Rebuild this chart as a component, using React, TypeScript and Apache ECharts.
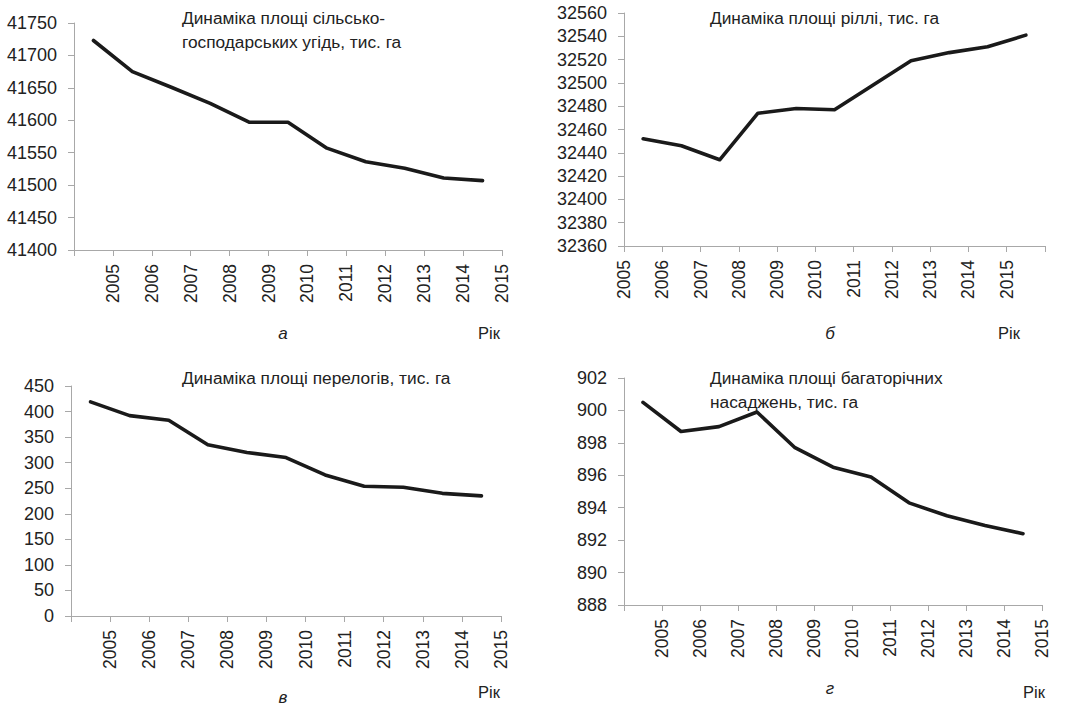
import React, { useEffect, useRef } from "react";
import * as echarts from "echarts";

const years = ["2005", "2006", "2007", "2008", "2009", "2010", "2011", "2012", "2013", "2014", "2015"];
const tickLabelsShifted = ["", ...years];
const tickLabelsLeft = [...years, ""];

const agriLand = [41723, 41675, 41651, 41626, 41597, 41597, 41557, 41536, 41526, 41511, 41507];
const arable = [32452, 32446, 32434, 32474, 32478, 32477, 32498, 32519, 32526, 32531, 32541];
const fallow = [419, 392, 383, 335, 320, 310, 276, 254, 252, 240, 235];
const perennial = [900.5, 898.7, 899.0, 899.9, 897.7, 896.5, 895.9, 894.3, 893.5, 892.9, 892.4];

const titles = [
  "Динаміка площі сільсько-\nгосподарських угідь, тис. га",
  "Динаміка площі ріллі, тис. га",
  "Динаміка площі перелогів, тис. га",
  "Динаміка площі багаторічних\nнасаджень, тис. га",
];
const letters = ["а", "б", "в", "г"];
const yearWord = "Рік";

const FONT = "'Liberation Sans', Arial, sans-serif";
const AXIS = "#a8a8a8";
const TEXT = "#222";

export default function App() {
  const ref = useRef<HTMLDivElement>(null);
  useEffect(() => {
    if (!ref.current) return;
    const chart = echarts.init(ref.current, null, { renderer: "svg" });

    const panels = [
      { grid: { left: 74, top: 23, width: 428, height: 227 }, data: agriLand, min: 41400, max: 41750, interval: 50, ticks: tickLabelsShifted },
      { grid: { left: 624, top: 13, width: 421, height: 233 }, data: arable, min: 32360, max: 32560, interval: 20, ticks: tickLabelsLeft },
      { grid: { left: 71, top: 386, width: 430, height: 230 }, data: fallow, min: 0, max: 450, interval: 50, ticks: tickLabelsShifted },
      { grid: { left: 624, top: 378, width: 418, height: 227 }, data: perennial, min: 888, max: 902, interval: 2, ticks: tickLabelsShifted },
    ];

    const grid: any[] = [];
    const xAxis: any[] = [];
    const yAxis: any[] = [];
    const series: any[] = [];
    panels.forEach((p, i) => {
      grid.push({ ...p.grid, containLabel: false });
      xAxis.push({
        gridIndex: i,
        type: "category",
        position: "bottom",
        data: years,
        boundaryGap: true,
        axisLine: { show: false },
        axisTick: { show: false },
        axisLabel: { show: false },
        splitLine: { show: false },
      });
      xAxis.push({
        gridIndex: i,
        type: "category",
        position: "bottom",
        offset: 0,
        data: p.ticks,
        boundaryGap: false,
        axisLine: { show: true, lineStyle: { color: AXIS, width: 1 } },
        axisTick: { show: true, length: 6, interval: 0, lineStyle: { color: AXIS } },
        axisLabel: { show: true, interval: 0, rotate: 90, margin: 14, fontSize: 17.5, color: TEXT, fontFamily: FONT },
        splitLine: { show: false },
      });
      yAxis.push({
        gridIndex: i,
        type: "value",
        min: p.min,
        max: p.max,
        interval: p.interval,
        axisLine: { show: true, lineStyle: { color: AXIS, width: 1 } },
        axisTick: { show: true, length: 6, lineStyle: { color: AXIS } },
        axisLabel: { fontSize: 18, color: TEXT, fontFamily: FONT, margin: 17, formatter: (v: number) => String(v) },
        splitLine: { show: false },
      });
      series.push({
        type: "line",
        xAxisIndex: i * 2,
        yAxisIndex: i,
        data: p.data,
        showSymbol: false,
        symbol: "none",
        lineStyle: { color: "#1a1a1a", width: 3.6, join: "round", cap: "round" },
      });
    });

    const titlePos = [
      { left: 182, top: 6 },
      { left: 710, top: 6 },
      { left: 182, top: 366 },
      { left: 710, top: 366 },
    ];
    const letterPos = [
      { x: 283, y: 333 },
      { x: 830, y: 333 },
      { x: 283, y: 697 },
      { x: 830, y: 688 },
    ];
    const rikPos = [
      { x: 500, y: 333 },
      { x: 1020, y: 333 },
      { x: 500, y: 692 },
      { x: 1045, y: 692 },
    ];

    const graphic: any[] = [];
    titles.forEach((t, i) => {
      graphic.push({
        type: "text",
        left: titlePos[i].left,
        top: titlePos[i].top,
        style: { text: t, fontSize: 17.3, fontFamily: FONT, fill: TEXT, lineHeight: 24 },
      });
      graphic.push({
        type: "text",
        x: letterPos[i].x,
        y: letterPos[i].y,
        style: { text: letters[i], fontSize: 17, fontStyle: "italic", fontFamily: FONT, fill: TEXT, align: "center", verticalAlign: "middle" },
      });
      graphic.push({
        type: "text",
        x: rikPos[i].x,
        y: rikPos[i].y,
        style: { text: yearWord, fontSize: 16.5, fontFamily: FONT, fill: TEXT, align: "right", verticalAlign: "middle" },
      });
    });

    chart.setOption({
      animation: false,
      backgroundColor: "#fff",
      grid,
      xAxis,
      yAxis,
      series,
      graphic,
    });
    return () => chart.dispose();
  }, []);
  return <div ref={ref} style={{ position: "absolute", left: 0, top: 0, width: 1069, height: 708 }} />;
}
